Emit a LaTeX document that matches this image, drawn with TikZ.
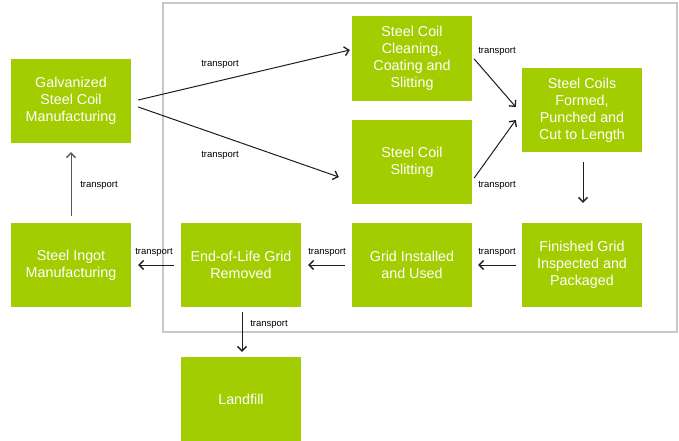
\documentclass[tikz,border=0pt]{standalone}
\usepackage{fontspec}
\setmainfont{Liberation Sans}
\usetikzlibrary{arrows.meta}
\definecolor{boxgreen}{RGB}{162,205,0}
\definecolor{framegray}{RGB}{200,200,200}
\definecolor{arrowgray}{RGB}{30,30,30}
\tikzset{
  stepbox/.style={fill=boxgreen, draw=none, text=white, minimum width=120pt, minimum height=84pt,
    inner sep=0pt, align=center, font=\fontsize{14.3}{17}\selectfont},
  flow/.style={draw=arrowgray, line width=1pt, -{Straight Barb[length=4.5pt,width=9pt,line width=1.3pt]}},
  lbl/.style={font=\fontsize{9.5}{11}\selectfont, text=black, inner sep=0pt}
}
\begin{document}
\begin{tikzpicture}[x=1pt,y=-1pt]
\useasboundingbox (0,0) rectangle (679,441);
\fill[white] (0,0) rectangle (679,441);
\draw[framegray, line width=1.5pt] (163,3) rectangle (677,332);

\node[stepbox] (galv) at (71,101) {Galvanized\\Steel Coil\\Manufacturing};
\node[stepbox] (ingot) at (71,265) {Steel Ingot\\Manufacturing};
\node[stepbox, minimum height=85pt] (clean) at (412,58.5) {Steel Coil\\Cleaning,\\Coating and\\Slitting};
\node[stepbox] (slit) at (412,162) {Steel Coil\\Slitting};
\node[stepbox] (formed) at (582,110) {Steel Coils\\Formed,\\Punched and\\Cut to Length};
\node[stepbox] (finished) at (582,265) {Finished Grid\\Inspected and\\Packaged};
\node[stepbox] (installed) at (412,265) {Grid Installed\\and Used};
\node[stepbox] (eol) at (241,265) {End-of-Life Grid\\Removed};
\node[stepbox] (landfill) at (241,399) {Landfill};

\draw[flow] ([shift={(7,-1)}]galv.east) -- ([shift={(-2,-8.5)}]clean.west);
\draw[flow] ([shift={(7,6)}]galv.east) -- ([shift={(-13,15)}]slit.west);
\draw[flow] ([shift={(2,0.5)}]clean.east) -- ([shift={(-6,-3)}]formed.west);
\draw[flow] ([shift={(2,16)}]slit.east) -- ([shift={(-6,10)}]formed.west);
\draw[flow] ([shift={(1,10)}]formed.south) -- ([shift={(1,-20)}]finished.north);
\draw[flow] ([shift={(-6,0)}]finished.west) -- ([shift={(6,0)}]installed.east);
\draw[flow] ([shift={(-7,0)}]installed.west) -- ([shift={(7,0)}]eol.east);
\draw[flow] ([shift={(-7,0)}]eol.west) -- ([shift={(7,0)}]ingot.east);
\draw[flow] ([shift={(1,5)}]eol.south) -- ([shift={(1,-5)}]landfill.north);
\draw[flow, draw=black!65] ([shift={(0,-7)}]ingot.north) -- ([shift={(0,9)}]galv.south);

\node[lbl] (t1) at (220,64) {transport};
\node[lbl] (t2) at (220,155) {transport};
\node[lbl] (t3) at (99,185) {transport};
\node[lbl] (t4) at (497,51) {transport};
\node[lbl] (t5) at (497,185) {transport};
\node[lbl] (t6) at (497,252) {transport};
\node[lbl] (t7) at (327,252) {transport};
\node[lbl] (t8) at (154,252) {transport};
\node[lbl] (t9) at (269,324) {transport};
\end{tikzpicture}
\end{document}
